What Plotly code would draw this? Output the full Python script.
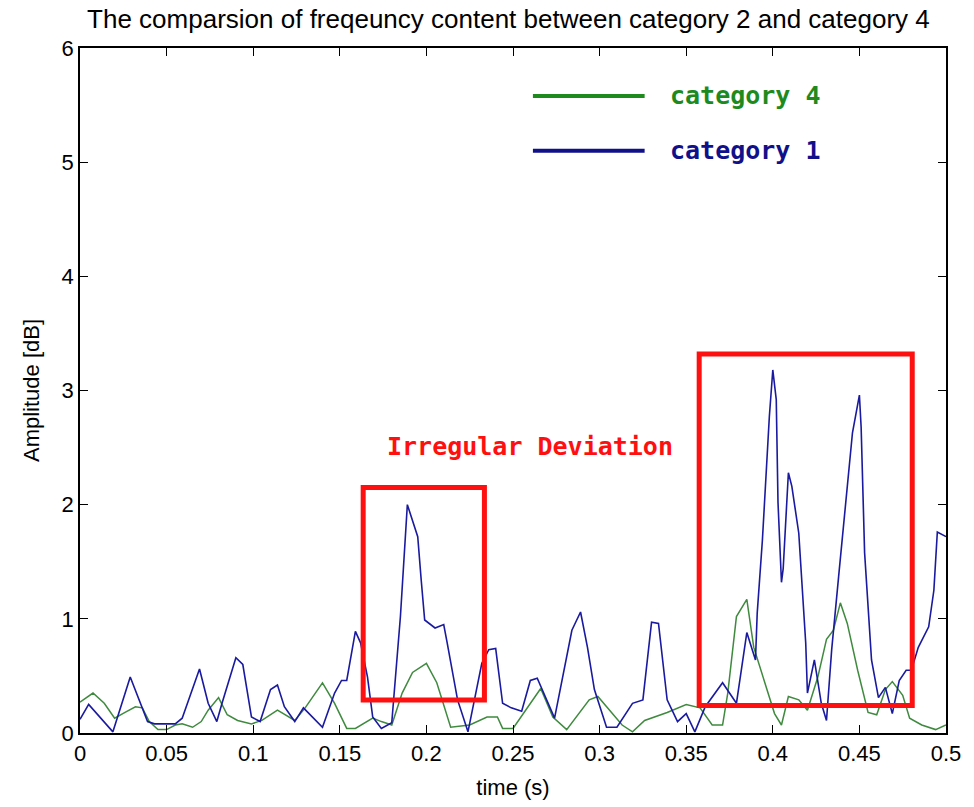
import plotly.graph_objects as go

# category 1 (blue)
t_cat1 = [0.0, 0.005, 0.019, 0.029, 0.039, 0.043, 0.055, 0.059, 0.069, 0.074, 0.079, 0.082,
          0.090, 0.094, 0.099, 0.104, 0.110, 0.114, 0.118, 0.124, 0.129, 0.140, 0.147, 0.151,
          0.154, 0.159, 0.162, 0.166, 0.169, 0.174, 0.180, 0.185, 0.189, 0.192, 0.195, 0.197,
          0.199, 0.205, 0.210, 0.212, 0.218, 0.224, 0.232, 0.236, 0.240, 0.244, 0.249, 0.255,
          0.260, 0.264, 0.274, 0.284, 0.289, 0.293, 0.297, 0.304, 0.310, 0.319, 0.325, 0.330,
          0.334, 0.339, 0.345, 0.350, 0.355, 0.361, 0.371, 0.379, 0.385, 0.390, 0.391, 0.394,
          0.398, 0.400, 0.402, 0.403, 0.405, 0.406, 0.409, 0.411, 0.415, 0.419, 0.420, 0.424,
          0.428, 0.431, 0.434, 0.438, 0.442, 0.446, 0.450, 0.451, 0.453, 0.457, 0.461, 0.465,
          0.469, 0.473, 0.477, 0.480, 0.484, 0.490, 0.493, 0.495, 0.500]
y_cat1 = [0.12, 0.25, 0.01, 0.49, 0.10, 0.08, 0.08, 0.13, 0.56, 0.26, 0.10, 0.26,
          0.66, 0.60, 0.14, 0.10, 0.38, 0.42, 0.23, 0.10, 0.22, 0.05, 0.35, 0.46,
          0.46, 0.89, 0.79, 0.49, 0.14, 0.04, 0.09, 1.02, 2.00, 1.87, 1.72, 1.34,
          0.99, 0.92, 0.95, 0.79, 0.29, 0.01, 0.61, 0.73, 0.74, 0.26, 0.22, 0.19,
          0.46, 0.48, 0.13, 0.90, 1.06, 0.75, 0.38, 0.05, 0.05, 0.26, 0.29, 0.97,
          0.96, 0.29, 0.10, 0.17, 0.01, 0.23, 0.44, 0.26, 0.88, 0.64, 1.05, 1.69,
          2.77, 3.18, 2.92, 2.02, 1.32, 1.44, 2.28, 2.16, 1.75, 0.79, 0.35, 0.64,
          0.26, 0.11, 0.73, 1.37, 2.02, 2.63, 2.96, 2.68, 1.58, 0.64, 0.31, 0.40,
          0.17, 0.46, 0.55, 0.55, 0.75, 0.93, 1.25, 1.76, 1.72]

# category 4 (green)
t_cat4 = [0.0, 0.0075, 0.014, 0.020, 0.026, 0.032, 0.036, 0.040, 0.045, 0.050, 0.055, 0.059,
          0.065, 0.070, 0.074, 0.080, 0.085, 0.091, 0.099, 0.105, 0.114, 0.124, 0.130, 0.140,
          0.147, 0.154, 0.159, 0.169, 0.174, 0.180, 0.186, 0.192, 0.200, 0.206, 0.214, 0.225,
          0.235, 0.241, 0.244, 0.250, 0.266, 0.273, 0.281, 0.294, 0.299, 0.306, 0.313, 0.319,
          0.326, 0.339, 0.350, 0.358, 0.365, 0.371, 0.374, 0.379, 0.385, 0.389, 0.396, 0.401,
          0.405, 0.409, 0.415, 0.420, 0.426, 0.431, 0.435, 0.439, 0.443, 0.449, 0.455, 0.460,
          0.465, 0.469, 0.475, 0.479, 0.486, 0.494, 0.500]
y_cat4 = [0.27, 0.35, 0.26, 0.13, 0.18, 0.23, 0.22, 0.10, 0.03, 0.03, 0.07, 0.08,
          0.05, 0.10, 0.20, 0.31, 0.16, 0.11, 0.08, 0.11, 0.20, 0.11, 0.22, 0.44,
          0.26, 0.04, 0.04, 0.13, 0.10, 0.07, 0.35, 0.53, 0.61, 0.44, 0.05, 0.07,
          0.14, 0.14, 0.04, 0.04, 0.39, 0.14, 0.03, 0.29, 0.32, 0.20, 0.07, 0.01,
          0.11, 0.18, 0.25, 0.22, 0.07, 0.07, 0.35, 1.02, 1.17, 0.75, 0.40, 0.17,
          0.07, 0.32, 0.29, 0.20, 0.49, 0.82, 0.90, 1.14, 0.96, 0.55, 0.18, 0.16,
          0.38, 0.45, 0.33, 0.13, 0.07, 0.03, 0.07]

x_ticks = [0, 0.05, 0.1, 0.15, 0.2, 0.25, 0.3, 0.35, 0.4, 0.45, 0.5]
x_tick_text = ["0", "0.05", "0.1", "0.15", "0.2", "0.25", "0.3", "0.35", "0.4", "0.45", "0.5"]
y_ticks = [0, 1, 2, 3, 4, 5, 6]

BLUE = "#1a1aa0"
GREEN_LINE = "#3f8a3f"
RED = "#ff1010"
LEG_GREEN = "#1e8a1e"
LEG_BLUE = "#10108a"

fig = go.Figure()
fig.add_trace(go.Scatter(x=t_cat4, y=y_cat4, mode="lines", name="category 4",
                         line=dict(color=GREEN_LINE, width=1.5), showlegend=False))
fig.add_trace(go.Scatter(x=t_cat1, y=y_cat1, mode="lines", name="category 1",
                         line=dict(color=BLUE, width=1.6), showlegend=False))

# highlight boxes
fig.add_shape(type="rect", xref="x", yref="y", x0=0.1635, x1=0.2335, y0=0.29, y1=2.15,
              line=dict(color=RED, width=5))
fig.add_shape(type="rect", xref="x", yref="y", x0=0.3575, x1=0.4805, y0=0.24, y1=3.32,
              line=dict(color=RED, width=5))
fig.add_annotation(x=0.26, y=2.51, xref="x", yref="y", text="<b>Irregular Deviation</b>",
                   showarrow=False, font=dict(family="DejaVu Sans Mono", size=25, color=RED))

# custom legend
fig.add_shape(type="line", xref="x", yref="y", x0=0.2615, x1=0.326, y0=5.58, y1=5.58,
              line=dict(color=LEG_GREEN, width=4))
fig.add_shape(type="line", xref="x", yref="y", x0=0.2615, x1=0.326, y0=5.10, y1=5.10,
              line=dict(color=LEG_BLUE, width=4))
fig.add_annotation(x=0.3395, y=5.58, xref="x", yref="y", text="<b>category 4</b>", xanchor="left",
                   showarrow=False, font=dict(family="DejaVu Sans Mono", size=25, color=LEG_GREEN))
fig.add_annotation(x=0.3395, y=5.10, xref="x", yref="y", text="<b>category 1</b>", xanchor="left",
                   showarrow=False, font=dict(family="DejaVu Sans Mono", size=25, color=LEG_BLUE))

axis_common = dict(showline=True, linecolor="black", linewidth=1.5, mirror="allticks",
                   ticks="inside", ticklen=8, tickcolor="black", showgrid=False,
                   zeroline=False, tickfont=dict(family="Liberation Sans", size=22, color="black"))
fig.update_xaxes(range=[0, 0.5], tickvals=x_ticks, ticktext=x_tick_text,
                 title=dict(text="time (s)", font=dict(family="Liberation Sans", size=22, color="black"),
                            standoff=14), **axis_common)
fig.update_yaxes(range=[0, 6], tickvals=y_ticks,
                 title=dict(text="Amplitude [dB]", font=dict(family="Liberation Sans", size=22, color="black"),
                            standoff=16), **axis_common)

fig.update_layout(
    width=974, height=807,
    margin=dict(l=80, r=28, t=48, b=74),
    paper_bgcolor="white", plot_bgcolor="white",
    title=dict(text="The comparsion of freqeuncy content between category 2 and category 4",
               x=0.522, xanchor="center", y=0.977, yanchor="middle",
               font=dict(family="Liberation Sans", size=26, color="black")),
)

fig.write_html("out.html")
